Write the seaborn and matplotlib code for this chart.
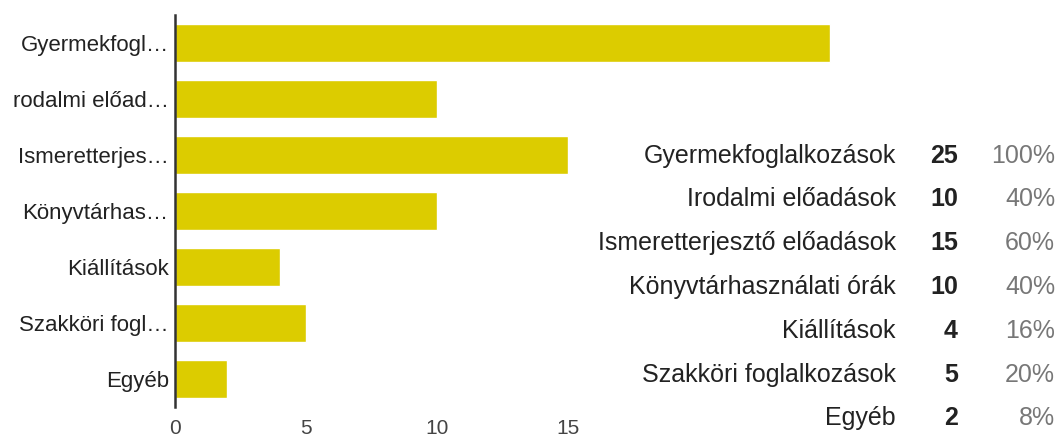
import seaborn as sns
import matplotlib.pyplot as plt
import pandas as pd

# values
short_labels = ["Gyermekfogl…", "rodalmi előad…", "Ismeretterjes…", "Könyvtárhas…",
                "Kiállítások", "Szakköri fogl…", "Egyéb"]
full_labels = ["Gyermekfoglalkozások", "Irodalmi előadások", "Ismeretterjesztő előadások",
               "Könyvtárhasználati órák", "Kiállítások", "Szakköri foglalkozások", "Egyéb"]
counts = [25, 10, 15, 10, 4, 5, 2]
percents = ["100%", "40%", "60%", "40%", "16%", "20%", "8%"]
x_ticks = [0, 5, 10, 15]

df = pd.DataFrame({"label": short_labels, "count": counts})

sns.set_style("white")
plt.rcParams["font.family"] = ["Liberation Sans", "DejaVu Sans"]

fig = plt.figure(figsize=(10.59, 4.43), dpi=100)
ax = fig.add_axes([175 / 1059, 1 - 407 / 443, 1 - 175 / 1059, 392 / 443])

sns.barplot(data=df, x="count", y="label", orient="h", color="#dccc00",
            saturation=1, width=0.68, ax=ax)

ax.set_xlim(0, (1059 - 175) / 26.2)
ax.set_ylim(6.5, -0.5)
ax.set_xticks(x_ticks)
ax.set(xlabel="", ylabel="")
ax.tick_params(axis="y", length=0, pad=4.5, labelsize=16, labelcolor="#222222")
ax.tick_params(axis="x", length=0, pad=9, labelsize=15, labelcolor="#444444")
sns.despine(ax=ax, top=True, right=True, bottom=True, left=False)
ax.spines["left"].set_color("#333333")
ax.spines["left"].set_linewidth(1.8)

# summary table on the right
row_y = [156, 199, 243, 287, 331, 375, 418]
for y, name, n, p in zip(row_y, full_labels, counts, percents):
    fy = 1 - y / 443
    fig.text(896 / 1059, fy, name, ha="right", va="center", fontsize=18, color="#222222")
    fig.text(958 / 1059, fy, str(n), ha="right", va="center", fontsize=18,
             color="#222222", fontweight="bold")
    fig.text(1055 / 1059, fy, p, ha="right", va="center", fontsize=18, color="#777777")

fig.savefig("out.png", dpi=100)
